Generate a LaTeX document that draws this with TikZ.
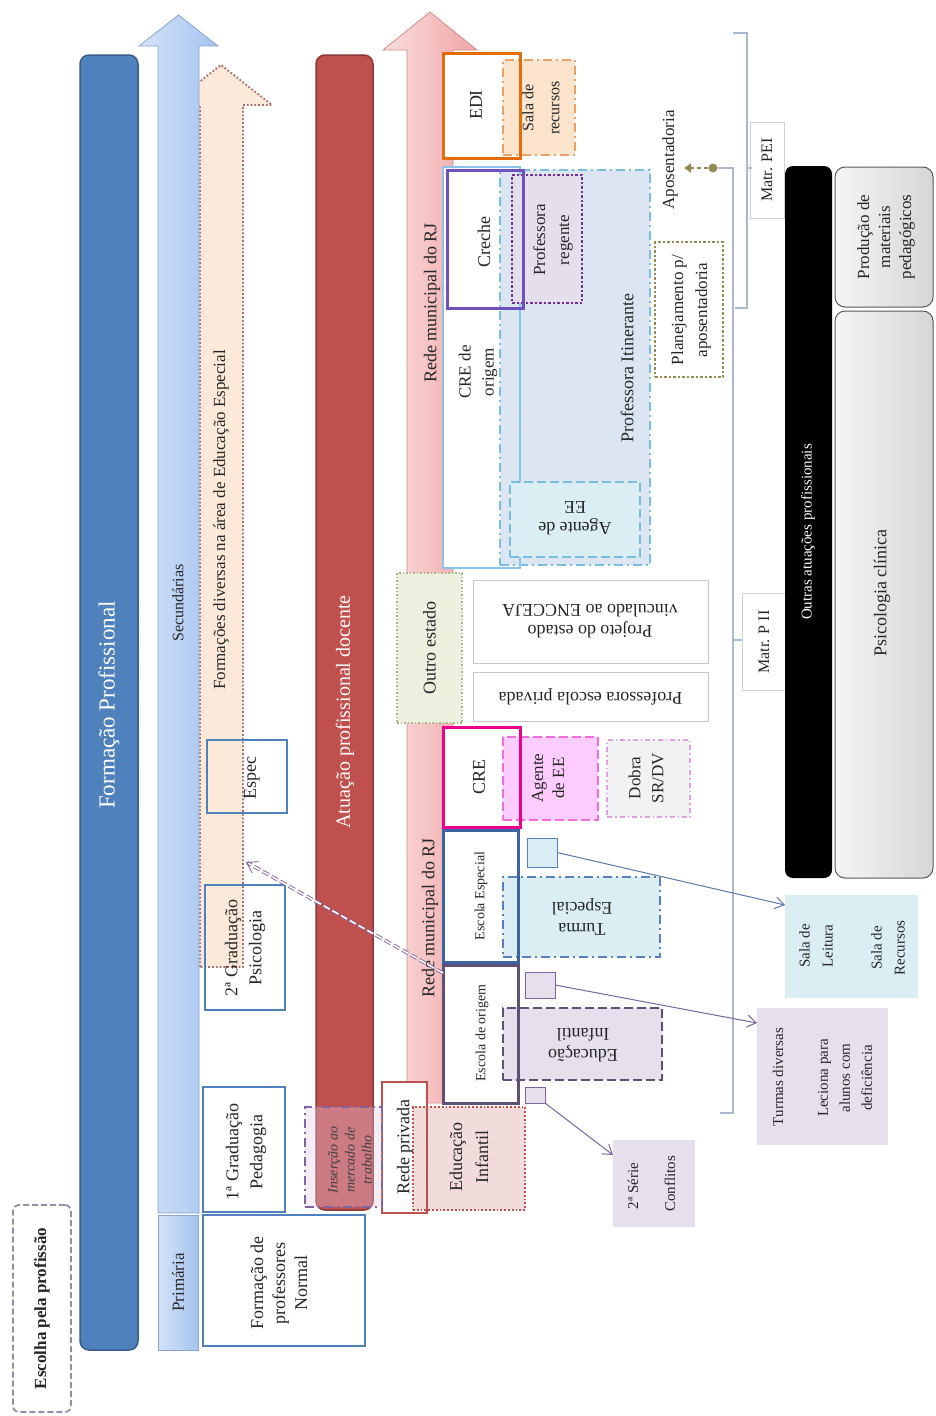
\documentclass[tikz,border=0pt]{standalone}
\usepackage{fontspec}
\setmainfont{Liberation Serif}
\usetikzlibrary{arrows.meta}
\definecolor{escB}{RGB}{150,140,170}
\definecolor{blueBar}{RGB}{79,129,189}
\definecolor{blueBarD}{RGB}{56,93,138}
\definecolor{peach}{RGB}{253,233,217}
\definecolor{peachD}{RGB}{170,110,110}
\definecolor{sec1}{RGB}{212,227,249}
\definecolor{sec2}{RGB}{165,195,238}
\definecolor{secD}{RGB}{140,165,205}
\definecolor{gradB}{RGB}{79,129,189}
\definecolor{redBar}{RGB}{192,80,77}
\definecolor{redD}{RGB}{140,56,54}
\definecolor{pk1}{RGB}{250,222,222}
\definecolor{pk2}{RGB}{240,165,165}
\definecolor{pkD}{RGB}{210,140,140}
\definecolor{ediD}{RGB}{228,108,10}
\definecolor{salaFill}{RGB}{252,228,205}
\definecolor{salaD}{RGB}{235,160,100}
\definecolor{itinF}{RGB}{220,230,242}
\definecolor{itinD}{RGB}{120,190,225}
\definecolor{creOD}{RGB}{140,195,235}
\definecolor{agBF}{RGB}{218,238,243}
\definecolor{agBD}{RGB}{120,190,225}
\definecolor{regF}{RGB}{229,223,236}
\definecolor{regD}{RGB}{112,48,160}
\definecolor{crecheD}{RGB}{110,80,190}
\definecolor{oliveD}{RGB}{148,138,84}
\definecolor{brkC}{RGB}{170,185,205}
\definecolor{lblD}{RGB}{205,210,215}
\definecolor{oeF}{RGB}{235,241,222}
\definecolor{oeD}{RGB}{170,180,140}
\definecolor{agPF}{RGB}{255,204,255}
\definecolor{agPD}{RGB}{240,110,220}
\definecolor{dobD}{RGB}{225,160,225}
\definecolor{lbF}{RGB}{219,238,244}
\definecolor{teD}{RGB}{85,130,190}
\definecolor{eeD}{RGB}{60,100,160}
\definecolor{lavF}{RGB}{229,224,236}
\definecolor{eoD}{RGB}{95,80,120}
\definecolor{sqPD}{RGB}{128,100,162}
\definecolor{salaLF}{RGB}{218,238,243}
\definecolor{pinkF}{RGB}{242,220,219}
\definecolor{insD}{RGB}{128,100,162}
\definecolor{arrBC}{RGB}{90,120,170}
\definecolor{arrPC}{RGB}{120,100,160}
\definecolor{dblC}{RGB}{128,100,162}
\newcommand{\mkbox}[6]{\node[bx,#1, minimum width={#5-#3}, minimum height={#6-#4}] (#2) at ({(#3+#5)/2},{(#4+#6)/2}) {};}
\begin{document}
\begin{tikzpicture}[x=1pt,y=-1pt,
  fsz/.style 2 args={font=\fontsize{#1}{#2}\selectfont},
  txt/.style={align=center, inner sep=0pt, text=black!85, fsz={18}{23}},
  rt/.style={txt, rotate=90},
  ut/.style={txt, rotate=180},
  bx/.style={inner sep=0pt, outer sep=0pt, rectangle},
  brk/.style={draw=brkC, line width=1.2pt},
  dashdotpat/.style={dash pattern=on 9pt off 4pt on 2pt off 4pt},
  arrB/.style={draw=arrBC, line width=1pt, -{Straight Barb[length=9pt,width=12pt]}},
  arrP/.style={draw=arrPC, line width=1pt, -{Straight Barb[length=9pt,width=12pt]}},
]
\fill[white] (0,0) rectangle (936,1416);
\useasboundingbox (0,0) rectangle (936,1416);

% Escolha pela profissao
\mkbox{draw=escB, line width=1.8pt, rounded corners=6pt, dash pattern=on 6pt off 3pt}{escolha}{13}{1205}{71}{1412}
\node[rt, font={\fontsize{17}{20}\selectfont\bfseries}] (tEsc) at (escolha) {Escolha pela profissão};

% Formacao profissional bar
\mkbox{fill=blueBar, draw=blueBarD, line width=1.5pt, rounded corners=9pt}{formBar}{80}{55}{138}{1350}
\node[rt, fsz={23}{27}, text=white] (tForm) at (109,705) {Formação Profissional};

% peach dotted arrow (formacoes diversas)
\filldraw[fill=peach, draw=peachD, line width=1.8pt, dotted] (200,967) -- (200,105) -- (170,105) -- (221,65) -- (272,105) -- (243,105) -- (243,967) -- cycle;

% light blue arrow (secundarias)
\draw[left color=sec1, right color=sec2, draw=secD, line width=0.8pt] (158,1213) -- (158,46) -- (139,46) -- (178.5,15) -- (218,46) -- (199,46) -- (199,1213) -- cycle;
\node[rt, fsz={16}{19}] (tSec) at (178,603) {Secundárias};
\node[rt, fsz={17}{20}] (tFd) at (221,520) {Formações diversas na área de Educação Especial};

% Primaria
\mkbox{left color=sec1, right color=sec2, draw=secD, line width=0.8pt}{prim}{158}{1215}{198}{1350}
\node[rt, fsz={17}{20}] (tPrim) at (prim) {Primária};

% graduation boxes
\mkbox{draw=gradB, line width=2.2pt}{grad2}{205}{885}{285}{1010}
\node[rt, fsz={18}{24}] (tG2) at (245,948) {2ª Graduação\\Psicologia};
\mkbox{draw=gradB, line width=2.2pt}{espec}{207}{740}{287}{813}
\node[rt] (tEspec) at (252,778) {Espec};
\mkbox{draw=gradB, line width=2.2pt, fill=white}{grad1}{203}{1087}{285}{1212}
\node[rt, fsz={18}{24}] (tG1) at (246,1152) {1ª Graduação\\Pedagogia};
\mkbox{draw=gradB, line width=2.2pt, fill=white}{normal}{203}{1215}{365}{1346}
\node[rt, fsz={18}{22}] (tNormal) at (279,1283) {Formação de\\professores\\Normal};

% red bar
\mkbox{fill=redBar, draw=redD, line width=1.5pt, rounded corners=9pt}{atBar}{316}{55}{373}{1210}
\node[rt, fsz={20}{24}, text=white] (tAt) at (345,712) {Atuação profissional docente};

% pink arrow
\draw[left color=pk1, right color=pk2, draw=pkD, line width=0.8pt] (407,1103) -- (407,50) -- (383,50) -- (430,12) -- (477,50) -- (453,50) -- (453,1103) -- cycle;
\node[rt] (tRm1) at (432,303) {Rede municipal do RJ};
\node[rt] (tRm2) at (430,918) {Rede municipal do RJ};

% EDI and sala de recursos
\fill[white] (443,53) rectangle (520,158);
\mkbox{fill=salaFill, draw=salaD, line width=2pt, dashdotpat}{sala}{503}{60}{575}{155}
\mkbox{draw=ediD, line width=3pt}{edi}{443}{53}{520}{158}
\node[rt] (tEdi) at (476,105) {EDI};
\node[rt, fsz={16}{26}] (tSala) at (541,108) {Sala de\\recursos};

% CRE de origem / itinerante
\fill[white] (443,167) rectangle (520,568);
\mkbox{fill=itinF, draw=itinD, line width=2.5pt, dashdotpat}{itin}{500}{170}{650}{565}
\mkbox{draw=creOD, line width=2.5pt}{creo}{443}{167}{520}{568}
\mkbox{fill=agBF, draw=agBD, line width=2.5pt, dash pattern=on 9pt off 4pt}{agB}{510}{482}{640}{557}
\mkbox{fill=regF, draw=regD, line width=2.5pt, dotted}{reg}{512}{175}{582}{303}
\mkbox{draw=crecheD, line width=3pt}{creche}{447}{170}{523}{308}
\node[rt] (tCreche) at (484,242) {Creche};
\node[rt, fsz={17}{23}] (tCreo) at (478,372) {CRE de\\origem};
\node[rt, fsz={17}{24}] (tReg) at (553,240) {Professora\\regente};
\node[rt] (tItin) at (627,368) {Professora Itinerante};
\node[ut, fsz={18}{21}] (tAgB) at (575,518) {Agente de\\EE};

% planejamento / aposentadoria
\mkbox{fill=white, draw=oliveD, line width=2.5pt, dotted}{plan}{655}{242}{723}{377}
\node[rt, fsz={17}{24}] (tPlan) at (691,310) {Planejamento p/\\aposentadoria};
\node[rt, fsz={17}{20}] (tApos) at (670,160) {Aposentadoria};
\node[circle, fill=oliveD, inner sep=0pt, minimum size=9pt] (dot) at (713,168) {};
\coordinate (aposTip) at (684,168);
\draw[oliveD, line width=2pt, dash pattern=on 4pt off 3pt, -{Triangle[length=7pt,width=9pt]}] (dot) -- (aposTip);

% brackets
\draw[brk] (733,33) -- (747,33) -- (747,308) -- (735,308);
\draw[brk] (747,168) -- (752,168);
\draw[brk] (dot) -- (733,168) -- (733,1113) -- (720,1113);
\draw[brk] (733,640) -- (742,640);
\mkbox{draw=lblD, line width=0.8pt}{mpei}{750}{122}{784}{218}
\node[rt, fsz={16}{19}] (tMpei) at (767,170) {Matr. PEI};
\mkbox{draw=lblD, line width=0.8pt}{mp2}{742}{593}{790}{690}
\node[rt, fsz={16}{19}] (tMp2) at (764,642) {Matr. P II};

% outras atuacoes
\mkbox{fill=black, rounded corners=8pt}{outras}{785}{166}{832}{878}
\node[rt, fsz={15}{18}, text=white] (tOutras) at (808,532) {Outras atuações profissionais};
\mkbox{left color=gray!8, right color=gray!32, draw=gray!70!black, line width=1pt, rounded corners=10pt}{prod}{835}{167}{933}{307}
\node[rt, fsz={17}{21}] (tProd) at (886,237) {Produção de\\materiais\\pedagógicos};
\mkbox{left color=gray!8, right color=gray!32, draw=gray!70!black, line width=1pt, rounded corners=10pt}{psi}{835}{311}{933}{878}
\node[rt] (tPsi) at (882,593) {Psicologia clínica};

% outro estado
\mkbox{fill=oeF, draw=oeD, line width=1.5pt, dotted}{oe}{397}{573}{462}{723}
\node[rt] (tOe) at (oe) {Outro estado};
\mkbox{fill=white, draw=gray!45, line width=1pt}{proj}{473}{580}{708}{663}
\node[ut, fsz={18}{21}] (tProj) at (590,621) {Projeto do estado\\vinculado ao ENCCEJA};
\mkbox{fill=white, draw=gray!45, line width=1pt}{priv}{473}{672}{708}{721}
\node[ut] (tPriv) at (priv) {Professora escola privada};

% CRE
\fill[white] (443,727) rectangle (520,827);
\mkbox{fill=agPF, draw=agPD, line width=2.5pt, dash pattern=on 9pt off 4pt}{agP}{503}{737}{598}{820}
\mkbox{draw=magenta, line width=3pt}{cre}{443}{727}{520}{827}
\mkbox{fill=gray!10, draw=dobD, line width=1.2pt, dash pattern=on 5pt off 3pt on 1.5pt off 3pt}{dobra}{607}{740}{690}{817}
\node[rt] (tCre) at (479,777) {CRE};
\node[rt, fsz={17}{21}] (tAgP) at (548,778) {Agente\\de EE};
\node[rt, fsz={17}{23}] (tDob) at (646,778) {Dobra\\SR/DV};

% Escola especial
\fill[white] (443,830) rectangle (518,962);
\mkbox{fill=lbF, draw=teD, line width=2.5pt, dashdotpat}{turma}{503}{877}{660}{957}
\mkbox{draw=eeD, line width=3pt}{esc}{443}{830}{518}{962}
\mkbox{fill=lbF, draw=teD, line width=0.8pt}{sqB}{527}{838}{557}{867}
\node[rt, fsz={14}{17}] (tEsc2) at (481,896) {Escola Especial};
\node[ut, fsz={18}{21}] (tTurma) at (582,917) {Turma\\Especial};

% Escola de origem
\fill[white] (443,965) rectangle (518,1103);
\mkbox{fill=lavF, draw=eoD, line width=2.5pt, dash pattern=on 9pt off 4pt}{edinf}{503}{1008}{662}{1080}
\mkbox{draw=eoD, line width=3pt}{eo}{443}{965}{518}{1103}
\mkbox{fill=lavF, draw=sqPD, line width=0.8pt}{sqP}{525}{972}{555}{998}
\mkbox{fill=lavF, draw=sqPD, line width=0.8pt}{sqS}{525}{1087}{545}{1103}
\node[rt, fsz={14}{17}] (tEo) at (482,1033) {Escola de origem};
\node[ut, fsz={18}{21}] (tEdInf) at (583,1045) {Educação\\Infantil};

% right-hand boxes
\mkbox{fill=salaLF}{salaL}{785}{895}{918}{998}
\node[rt, fsz={15}{23}] (tSL) at (816,946) {Sala de\\Leitura};
\node[rt, fsz={15}{23}] (tSR) at (888,948) {Sala de\\Recursos};
\mkbox{fill=lavF}{turmas}{757}{1008}{888}{1145}
\node[rt, fsz={15}{18}] (tTd) at (778,1077) {Turmas diversas};
\node[rt, fsz={15}{22}] (tLec) at (845,1078) {Leciona para\\alunos com\\deficiência};
\mkbox{fill=lavF}{serie}{613}{1140}{695}{1227}
\node[rt, fsz={15}{18}] (tSerie) at (633,1186) {2ª Série};
\node[rt, fsz={15}{18}] (tConf) at (670,1184) {Conflitos};

% Rede privada
\fill[white] (382,1082) rectangle (427,1213);
\mkbox{fill=pinkF, draw=redBar, line width=1.8pt, dotted}{edred}{413}{1107}{525}{1210}
\mkbox{draw=redBar, line width=2.5pt}{rp}{382}{1082}{427}{1213}
\node[rt] (tRp) at (405,1147) {Rede privada};
\node[rt, fsz={18}{26}] (tEdRed) at (469,1157) {Educação\\Infantil};

% Insercao
\mkbox{fill=violet!20, fill opacity=0.35, draw=insD, line width=1.5pt, dashdotpat}{ins}{305}{1107}{382}{1207}
\node[rt, font={\fontsize{14}{17}\selectfont\itshape}, text=black!75] (tIns) at (350,1160) {Inserção ao\\mercado de\\trabalho};

% connectors
\draw[arrB] (sqB.east) -- ([yshift=-10pt]salaL.north west);
\draw[arrP] (sqP.east) -- ([yshift=-15pt]turmas.north west);
\draw[arrP] (sqS.south east) -- ([yshift=-15pt]serie.north west);
\coordinate (espPt) at (246,862);
\draw[draw=dblC, line width=0.9pt, double=white, double distance=1.6pt, dash pattern=on 7pt off 3pt, -{Straight Barb[length=10pt,width=13pt]}] ([yshift=-8pt]eo.north west) -- (espPt);
\end{tikzpicture}
\end{document}
